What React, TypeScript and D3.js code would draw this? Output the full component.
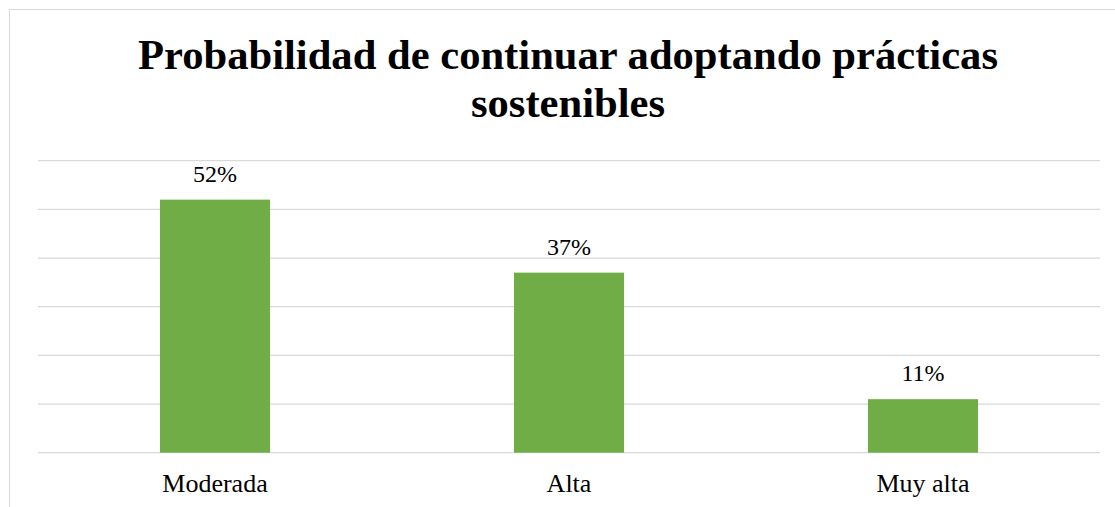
import React from "react";
import * as d3 from "d3";

const categories = ["Moderada", "Alta", "Muy alta"];
const values = [52, 37, 11];
const yTicks = [0, 10, 20, 30, 40, 50, 60];
const titleLines = ["Probabilidad de continuar adoptando prácticas", "sostenibles"];

const W = 1115;
const H = 507;
const plot = { left: 38, right: 1100, top: 160.7, bottom: 452.7 };

export default function App() {
  const x = d3
    .scaleBand<string>()
    .domain(categories)
    .range([plot.left, plot.right])
    .paddingInner(0.689)
    .paddingOuter(0.3445);
  const y = d3.scaleLinear().domain([0, 60]).range([plot.bottom, plot.top]);
  const font = "'Liberation Serif', 'Times New Roman', serif";
  const cx = 568;

  return (
    <div style={{ position: "fixed", left: 0, top: 0 }}>
      <svg width={W} height={H} style={{ display: "block", background: "#fff" }}>
        <rect x={9.5} y={9.5} width={1120} height={520} fill="#fff" stroke="#D9D9D9" strokeWidth={1} />
        {titleLines.map((t, i) => (
          <text
            key={i}
            x={cx}
            y={69 + i * 48.3}
            textAnchor="middle"
            fontFamily={font}
            fontWeight="bold"
            fontSize={42.6}
            fill="#000"
          >
            {t}
          </text>
        ))}
        {yTicks.map((t) => (
          <line
            key={t}
            x1={plot.left}
            x2={plot.right}
            y1={y(t)}
            y2={y(t)}
            stroke="#D9D9D9"
            strokeWidth={1.2}
          />
        ))}
        {categories.map((c, i) => (
          <g key={c}>
            <rect
              x={x(c)}
              y={y(values[i])}
              width={x.bandwidth()}
              height={y(0) - y(values[i])}
              fill="#70AD47"
            />
            <text
              x={(x(c) as number) + x.bandwidth() / 2}
              y={y(values[i]) - 18}
              textAnchor="middle"
              fontFamily={font}
              fontSize={24}
              fill="#000"
            >
              {values[i]}%
            </text>
            <text
              x={(x(c) as number) + x.bandwidth() / 2}
              y={492.3}
              textAnchor="middle"
              fontFamily={font}
              fontSize={26}
              fill="#000"
            >
              {c}
            </text>
          </g>
        ))}
      </svg>
    </div>
  );
}
